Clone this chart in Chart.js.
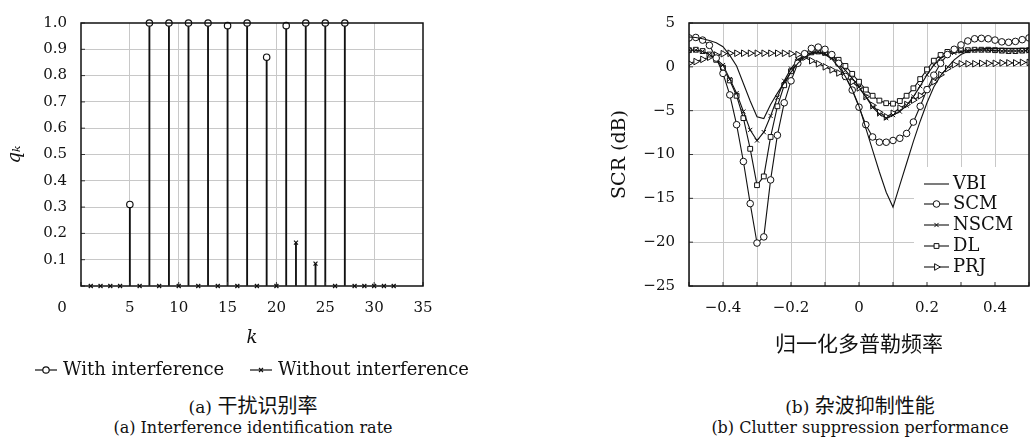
<!DOCTYPE html>
<html>
<head>
<meta charset="utf-8">
<script src="https://cdn.jsdelivr.net/npm/chart.js@4/dist/chart.umd.min.js"></script>
<style>
  body { margin: 0; background: #fff; }
  #wrap { position: relative; width: 1034px; height: 443px; }
  canvas { position: absolute; top: 0; }
  .cap { position: absolute; text-align: center; font-family: 'DejaVu Serif', 'Noto Sans CJK SC', serif; color: #111; line-height: 22px; white-space: nowrap; }
  .cap.en { font-size: 16px; }
  .cap.zh { font-size: 17px; }
  .cap.zh span { font-family: 'Noto Sans CJK SC', sans-serif; font-size: 20px; }
</style>
</head>
<body>
<div id="wrap">
  <canvas id="rate" width="517" height="390" style="left:0"></canvas>
  <canvas id="scr" width="517" height="360" style="left:517px"></canvas>
  <div class="cap zh" style="left:3px;width:500px;top:394px">(a) <span>干扰识别率</span></div>
  <div class="cap en" style="left:3px;width:500px;top:417px">(a) Interference identification rate</div>
  <div class="cap zh" style="left:610px;width:500px;top:394px">(b) <span>杂波抑制性能</span></div>
  <div class="cap en" style="left:610px;width:500px;top:417px">(b) Clutter suppression performance</div>
</div>
<script>
// (a) interference identification rate
const withK = [5, 7, 9, 11, 13, 15, 17, 19, 21, 23, 25, 27];
const withQ = [0.31, 1.0, 1.0, 1.0, 1.0, 0.99, 1.0, 0.87, 0.99, 1.0, 1.0, 1.0];
const withoutK = [1, 2, 3, 4, 6, 8, 10, 12, 14, 16, 18, 20, 22, 24, 26, 28, 29, 30, 31, 32];
const withoutQ = [0, 0, 0, 0, 0, 0, 0, 0, 0, 0, 0, 0, 0.165, 0.085, 0, 0, 0, 0, 0, 0];

// (b) clutter suppression, SCR in dB
const freq = [-0.5, -0.48, -0.46, -0.44, -0.42, -0.4, -0.38, -0.36, -0.34, -0.32,
  -0.3, -0.28, -0.26, -0.24, -0.22, -0.2, -0.18, -0.16, -0.14, -0.12,
  -0.1, -0.08, -0.06, -0.04, -0.02, 0, 0.02, 0.04, 0.06, 0.08,
  0.1, 0.12, 0.14, 0.16, 0.18, 0.2, 0.22, 0.24, 0.26, 0.28,
  0.3, 0.32, 0.34, 0.36, 0.38, 0.4, 0.42, 0.44, 0.46, 0.48, 0.5];
const vbi = [3.4, 3.35, 3.2, 3.0, 2.75, 2.3, 1.3, 0.1, -1.9, -3.9,
  -5.7, -5.9, -4.3, -3.0, -1.8, -0.6, 0.4, 1.1, 1.5, 1.6,
  1.4, 0.9, 0.0, -1.1, -2.6, -4.45, -7.0, -9.5, -12.0, -14.3,
  -16.0, -13.5, -11.0, -8.5, -6.2, -4.1, -2.3, -1.0, -0.1, 0.8,
  1.4, 1.75, 1.95, 2.05, 2.1, 2.1, 2.1, 2.1, 2.1, 2.1, 2.1];
const scm = [3.3, 3.35, 3.05, 2.45, 1.0, -0.75, -3.2, -6.6, -10.8, -15.6,
  -20.1, -19.4, -12.9, -7.8, -4.1, -1.6, 0.4, 1.5, 2.1, 2.25,
  2.0, 1.4, 0.4, -1.1, -2.65, -4.6, -6.6, -8.0, -8.6, -8.6,
  -8.4, -8.15, -7.6, -6.3, -4.5, -2.6, -0.95, 0.4, 1.4, 2.0,
  2.5, 2.95, 3.2, 3.25, 3.2, 3.05, 2.85, 2.8, 2.9, 3.1, 3.3];
const nscm = [1.9, 1.9, 1.75, 1.4, 0.9, 0.2, -1.4, -3.0, -5.1, -7.2,
  -8.4, -7.45, -5.6, -3.5, -1.6, -0.2, 0.8, 1.35, 1.6, 1.7,
  1.5, 1.0, 0.4, -0.4, -1.3, -2.3, -3.4, -4.6, -5.4, -5.85,
  -5.5, -5.1, -4.4, -3.4, -2.2, -0.9, 0.2, 1.0, 1.4, 1.6,
  1.75, 1.85, 1.9, 1.9, 1.9, 1.85, 1.8, 1.8, 1.8, 1.8, 1.8];
const dl = [1.9, 1.95, 1.8, 1.4, 0.8, -0.1, -1.55, -3.3, -5.85, -9.35,
  -13.5, -12.5, -8.0, -4.5, -2.1, -0.5, 0.6, 1.3, 1.65, 1.75,
  1.6, 1.3, 0.8, 0.1, -0.8, -1.7, -2.6, -3.3, -3.85, -4.15,
  -4.2, -3.9, -3.3, -2.45, -1.4, -0.3, 0.7, 1.35, 1.7, 1.85,
  1.9, 1.9, 1.95, 1.95, 1.95, 1.9, 1.85, 1.8, 1.8, 1.85, 1.9];
const prj = [0.4, 0.6, 0.85, 1.1, 1.35, 1.5, 1.55, 1.55, 1.55, 1.55,
  1.55, 1.55, 1.55, 1.55, 1.55, 1.5, 1.4, 1.1, 0.7, 0.35,
  0.0, -0.35, -0.7, -1.1, -1.7, -2.4, -3.4, -4.4, -5.2, -5.7,
  -5.3, -4.7, -4.3, -3.8, -3.3, -2.6, -1.7, -0.9, -0.2, 0.25,
  0.35, 0.35, 0.35, 0.4, 0.4, 0.4, 0.45, 0.45, 0.45, 0.5, 0.5];

const SERIF = "'DejaVu Serif', serif";
const CJK = "'Noto Sans CJK SC', sans-serif";
const INK = '#111';
const GRID = '#c8c8c8';

function pts(xs, ys) {
  return xs.map((x, i) => ({ x: x, y: ys[i] }));
}

function drawMarker(ctx, style, x, y) {
  ctx.save();
  ctx.fillStyle = '#fff';
  ctx.strokeStyle = INK;
  ctx.lineWidth = style.width;
  Chart.helpers.drawPoint(ctx, {
    pointStyle: style.pointStyle,
    radius: style.radius,
    rotation: style.rotation || 0,
    borderWidth: style.width
  }, x, y);
  ctx.restore();
}

// frame round the plot and short inner ticks
const framePlugin = {
  id: 'frame',
  afterDraw(chart) {
    const { ctx, chartArea: a, scales } = chart;
    ctx.save();
    ctx.strokeStyle = '#333';
    ctx.lineWidth = 1;
    scales.x.ticks.forEach(t => {
      const px = scales.x.getPixelForValue(t.value);
      ctx.beginPath(); ctx.moveTo(px, a.bottom); ctx.lineTo(px, a.bottom - 4); ctx.stroke();
    });
    scales.y.ticks.forEach(t => {
      const py = scales.y.getPixelForValue(t.value);
      ctx.beginPath(); ctx.moveTo(a.left, py); ctx.lineTo(a.left + 4, py); ctx.stroke();
    });
    ctx.strokeStyle = INK;
    ctx.lineWidth = 1.5;
    ctx.strokeRect(a.left, a.top, a.right - a.left, a.bottom - a.top);
    ctx.restore();
  }
};

// x tick labels sit 13px below the plot; done with an invisible tick mark so the
// label padding does not also pad the right side of the plot
const xTickGrid = { drawTicks: true, tickLength: 13, tickColor: 'rgba(0,0,0,0)' };

// ---------- chart (a) ----------
const circleStyle = { pointStyle: 'circle', radius: 3.2, width: 1.2 };
const crossStyle = { pointStyle: 'crossRot', radius: 2.8, width: 1.2 };

const legendA = {
  id: 'legendA',
  afterDraw(chart) {
    const ctx = chart.ctx;
    const y = 370;
    const items = [
      { x0: 35, label: 'With interference', style: circleStyle },
      { x0: 250, label: 'Without interference', style: crossStyle }
    ];
    ctx.save();
    ctx.font = '18px ' + SERIF;
    ctx.textBaseline = 'middle';
    items.forEach(it => {
      ctx.strokeStyle = INK;
      ctx.lineWidth = 1.2;
      ctx.beginPath(); ctx.moveTo(it.x0, y); ctx.lineTo(it.x0 + 22, y); ctx.stroke();
      drawMarker(ctx, it.style, it.x0 + 11, y);
      ctx.fillStyle = INK;
      ctx.fillText(it.label, it.x0 + 28, y);
    });
    // the zero label sits left of the axis corner in the original
    const xs = chart.scales.x;
    ctx.font = '15px ' + SERIF;
    ctx.textAlign = 'center';
    ctx.fillText('0', xs.getPixelForValue(0) - 19, 308);
    ctx.restore();
  }
};

new Chart(document.getElementById('rate'), {
  type: 'bar',
  data: {
    datasets: [
      { type: 'bar', data: pts(withK, withQ), backgroundColor: INK, barThickness: 1.2, grouped: false, order: 2 },
      { type: 'bar', data: pts(withoutK, withoutQ), backgroundColor: INK, barThickness: 1.2, grouped: false, order: 2 },
      { type: 'line', data: pts(withK, withQ), showLine: false, clip: false, order: 1,
        pointStyle: 'circle', pointRadius: circleStyle.radius, pointBorderWidth: circleStyle.width,
        pointBackgroundColor: '#fff', pointBorderColor: INK },
      { type: 'line', data: pts(withoutK, withoutQ), showLine: false, clip: false, order: 1,
        pointStyle: 'crossRot', pointRadius: crossStyle.radius, pointBorderWidth: crossStyle.width,
        pointBorderColor: INK }
    ]
  },
  options: {
    responsive: false,
    animation: false,
    events: [],
    layout: { padding: { top: 17, right: 94, bottom: 0, left: 0 } },
    plugins: { legend: { display: false }, tooltip: { enabled: false } },
    scales: {
      x: {
        type: 'linear', min: 0, max: 35, offset: false,
        ticks: { stepSize: 5, padding: 0, maxRotation: 0, minRotation: 0, autoSkip: false, color: INK, font: { family: SERIF, size: 15 },
          callback: v => (v === 0 ? '' : String(v)) },
        grid: Object.assign({ color: c => (c.tick && c.tick.value > 0 && c.tick.value < 35 ? GRID : 'rgba(0,0,0,0)'), offset: false }, xTickGrid),
        border: { display: false },
        title: { display: true, text: 'k', color: INK, font: { family: SERIF, size: 18, style: 'italic' }, padding: { top: 0, bottom: 41 } },
        afterFit: s => { s.height = 104; }
      },
      y: {
        min: 0, max: 1,
        ticks: { stepSize: 0.1, padding: 14, color: INK, font: { family: SERIF, size: 15 },
          callback: v => (v === 0 ? '' : v.toFixed(1)) },
        grid: { color: c => (c.tick && c.tick.value > 0.01 && c.tick.value < 0.99 ? GRID : 'rgba(0,0,0,0)'), drawTicks: false },
        border: { display: false },
        title: { display: true, text: 'qₖ', color: INK, font: { family: SERIF, size: 18, style: 'italic' }, padding: { top: 5, bottom: 0 } },
        afterFit: s => { s.width = 81; }
      }
    }
  },
  plugins: [framePlugin, legendA]
});

// ---------- chart (b) ----------
const seriesB = [
  { label: 'VBI', data: vbi, style: null },
  { label: 'SCM', data: scm, style: { pointStyle: 'circle', radius: 3.3, width: 1 } },
  { label: 'NSCM', data: nscm, style: { pointStyle: 'crossRot', radius: 3, width: 1 } },
  { label: 'DL', data: dl, style: { pointStyle: 'rect', radius: 3.4, width: 1 } },
  { label: 'PRJ', data: prj, style: { pointStyle: 'triangle', radius: 3.8, width: 1, rotation: 90 } }
];

const legendB = {
  id: 'legendB',
  afterDatasetsDraw(chart) {
    const { ctx, chartArea: a } = chart;
    const rows = [184, 204, 225, 246, 267];
    const left = a.right - 115;
    ctx.save();
    ctx.fillStyle = '#fff';
    ctx.fillRect(left, 167, a.right - left, a.bottom - 167);
    ctx.font = '18px ' + SERIF;
    ctx.textBaseline = 'middle';
    seriesB.forEach((s, i) => {
      const y = rows[i];
      ctx.strokeStyle = INK;
      ctx.lineWidth = 1.1;
      ctx.beginPath(); ctx.moveTo(left + 10, y); ctx.lineTo(left + 35, y); ctx.stroke();
      if (s.style) drawMarker(ctx, s.style, left + 22.5, y);
      ctx.fillStyle = INK;
      ctx.fillText(s.label, left + 39, y);
    });
    ctx.restore();
  }
};

function minusLabel(n) {
  return n < 0 ? '\u2212' + Math.abs(n) : String(n);
}

new Chart(document.getElementById('scr'), {
  type: 'line',
  data: {
    datasets: seriesB.map(s => ({
      label: s.label,
      data: pts(freq, s.data),
      borderColor: INK,
      borderWidth: 1.1,
      tension: 0,
      pointRadius: s.style ? s.style.radius : 0,
      pointStyle: s.style ? s.style.pointStyle : 'circle',
      pointRotation: s.style && s.style.rotation ? s.style.rotation : 0,
      pointBorderWidth: s.style ? s.style.width : 0,
      pointBorderColor: INK,
      pointBackgroundColor: '#fff'
    }))
  },
  options: {
    responsive: false,
    animation: false,
    events: [],
    layout: { padding: { top: 17, right: 2, bottom: 0, left: 0 } },
    plugins: { legend: { display: false }, tooltip: { enabled: false } },
    scales: {
      x: {
        type: 'linear', min: -0.5, max: 0.5,
        ticks: { stepSize: 0.1, padding: 0, maxRotation: 0, minRotation: 0, autoSkip: false, color: INK, font: { family: SERIF, size: 15 },
          callback: v => {
            const n = Math.round(v * 10);
            if (n % 2 !== 0 || Math.abs(n) === 5) return '';
            if (n === 0) return '0';
            return (n < 0 ? '\u2212' : '') + (Math.abs(n) / 10).toFixed(1);
          } },
        grid: Object.assign({ color: GRID }, xTickGrid),
        border: { display: false },
        title: { display: true, text: '归一化多普勒频率', color: INK, font: { family: CJK, size: 21 }, padding: { top: 0, bottom: 4 } },
        afterFit: s => { s.height = 74; }
      },
      y: {
        min: -25, max: 5,
        ticks: { stepSize: 5, padding: 14, color: INK, font: { family: SERIF, size: 15 },
          callback: v => minusLabel(v) },
        grid: { color: GRID, drawTicks: false },
        border: { display: false },
        title: { display: true, text: 'SCR (dB)', color: INK, font: { family: SERIF, size: 19 }, padding: { top: 92, bottom: 0 } },
        afterFit: s => { s.width = 172; }
      }
    }
  },
  plugins: [legendB, framePlugin]
});
</script>
</body>
</html>
